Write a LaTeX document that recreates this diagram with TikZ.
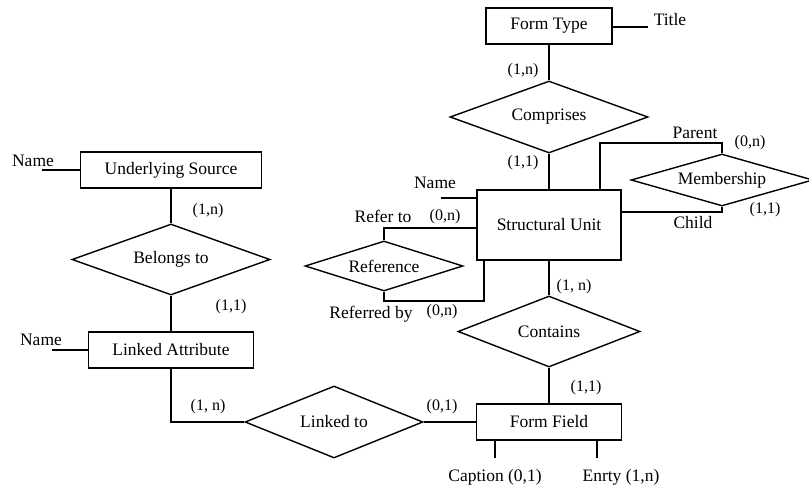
\documentclass[tikz,border=0pt]{standalone}
\usepackage{fontspec}
\setmainfont{Liberation Serif}
\usetikzlibrary{shapes.geometric}

\tikzset{
  entity/.style={draw, rectangle, inner sep=0pt, minimum height=36pt},
  relation/.style={draw, diamond, inner sep=0pt, aspect=4},
  lbl/.style={inner sep=0pt, font=\fontsize{17.5}{20}\selectfont},
  card/.style={inner sep=0pt, font=\fontsize{16}{18}\selectfont},
}

\begin{document}
\begin{tikzpicture}[x=1pt, y=-1pt, line width=1.4pt, font=\fontsize{17.5}{20}\selectfont]
  \useasboundingbox (0,0) rectangle (809,489);
  \begin{scope}
  \clip (0,0) rectangle (809,489);

  % entities
  \node[entity, minimum width=126pt] (ft) at (549,26) {Form Type};
  \node[entity, minimum width=144pt, minimum height=70pt] (su) at (549,225) {Structural Unit};
  \node[entity, minimum width=145pt] (ff) at (549,422) {Form Field};
  \node[entity, minimum width=181pt] (us) at (171,170) {Underlying Source};
  \node[entity, minimum width=165pt] (la) at (171,350) {Linked Attribute};

  % relationships
  \node[relation, minimum width=198pt, minimum height=72pt] (comp) at (549,117) {Comprises};
  \node[relation, minimum width=182pt, minimum height=52pt] (memb) at (722,180) {Membership};
  \node[relation, minimum width=158pt, minimum height=50pt] (ref) at (384,266) {Reference};
  \node[relation, minimum width=182pt, minimum height=71pt] (cont) at (549,331.5) {Contains};
  \node[relation, minimum width=178pt, minimum height=72pt] (link) at (334,422) {Linked to};
  \node[relation, minimum width=198pt, minimum height=71pt] (bel) at (171,259.5) {Belongs to};

  % attribute stubs
  \coordinate (tt) at (648,27);
  \coordinate (suname) at (441,198);
  \coordinate (usname) at (42,170);
  \coordinate (laname) at (52,350);
  \coordinate (cap) at (495,458);
  \coordinate (ent) at (597,458);
  \draw (ft.east |- tt) -- (tt);
  \draw (suname) -- (suname -| su.west);
  \draw (usname) -- (us.west);
  \draw (laname) -- (la.west);
  \draw (cap) -- (cap |- ff.south);
  \draw (ent) -- (ent |- ff.south);

  % relationship lines
  \draw (ft.south) -- (comp.north);
  \draw (comp.south) -- (su.north);
  \coordinate (pp) at (600,143);
  \coordinate (chy) at (0,212);
  \draw (memb.north) |- (pp) -- (pp |- su.north);
  \draw (memb.south) |- (su.east |- chy);
  \coordinate (rty) at (0,228);
  \coordinate (rby) at (484,301);
  \draw (ref.north) |- (su.west |- rty);
  \draw (ref.south) |- (rby) -- (rby |- su.south);
  \draw (su.south) -- (cont.north);
  \draw (cont.south) -- (ff.north);
  \draw (link.east) -- (ff.west);
  \draw (la.south) |- (link.west);
  \draw (us.south) -- (bel.north);
  \draw (bel.south) -- (la.north);
  \end{scope}

  % attribute names
  \node[lbl] (ttl) at (670,20) {Title};
  \node[lbl] (sun) at (435,183) {Name};
  \node[lbl] (usn) at (33,161) {Name};
  \node[lbl] (lan) at (41,340) {Name};
  \node[lbl] (capl) at (495,477) {Caption (0,1)};
  \node[lbl] (entl) at (621,477) {Enrty (1,n)};

  % role names
  \node[lbl] (par) at (695,133) {Parent};
  \node[lbl] (chl) at (693,223) {Child};
  \node[lbl] (rto) at (383,216) {Refer to};
  \node[lbl] (rby-l) at (371,314) {Referred by};

  % cardinalities
  \node[card] (c1) at (523,71) {(1,n)};
  \node[card] (c2) at (523,163) {(1,1)};
  \node[card] (c3) at (750,143) {(0,n)};
  \node[card] (c4) at (765,210) {(1,1)};
  \node[card] (c5) at (445,217) {(0,n)};
  \node[card] (c6) at (442,312) {(0,n)};
  \node[card] (c7) at (574,287) {(1, n)};
  \node[card] (c8) at (586,388) {(1,1)};
  \node[card] (c9) at (442,407) {(0,1)};
  \node[card] (c10) at (208,407) {(1, n)};
  \node[card] (c11) at (208,211) {(1,n)};
  \node[card] (c12) at (231,307) {(1,1)};
\end{tikzpicture}
\end{document}
